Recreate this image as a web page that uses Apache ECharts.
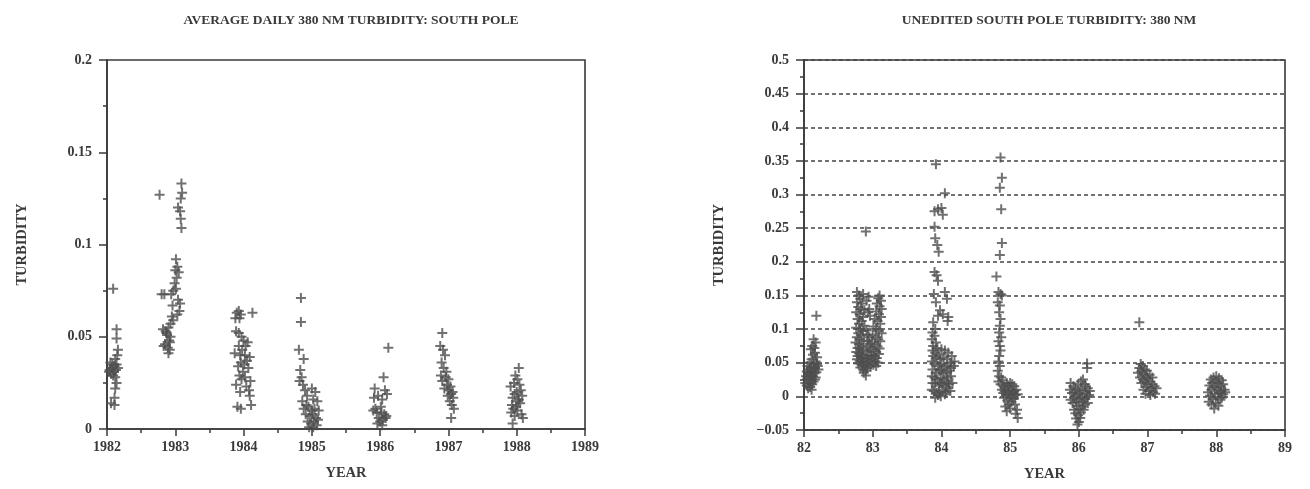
<!DOCTYPE html>
<html>
<head>
<meta charset="utf-8">
<title>South Pole 380 nm Turbidity</title>
<script src="https://cdn.jsdelivr.net/npm/echarts@6/dist/echarts.min.js"></script>
<style>
  html, body { margin: 0; padding: 0; background: #ffffff; }
  #chart { width: 1310px; height: 489px; }
</style>
</head>
<body>
<div id="chart"></div>
<script>
// ---- Average daily turbidity (decimal year, turbidity) ----
const avg1982 = [[1982.09,0.076],[1982.14,0.054],[1982.14,0.049],[1982.16,0.043],[1982.15,0.040],[1982.12,0.038],[1982.05,0.036],[1982.08,0.035],[1982.11,0.034],[1982.14,0.035],[1982.04,0.032],[1982.07,0.033],[1982.10,0.031],[1982.13,0.032],[1982.06,0.030],[1982.09,0.029],[1982.12,0.028],[1982.16,0.033],[1982.14,0.025],[1982.12,0.022],[1982.11,0.017],[1982.06,0.014],[1982.11,0.013],[1982.03,0.031]];
const avg1983 = [[1982.77,0.127],[1983.09,0.133],[1983.10,0.128],[1983.08,0.125],[1983.04,0.120],[1983.07,0.118],[1983.08,0.114],[1983.09,0.109],[1983.01,0.092],[1983.03,0.088],[1983.00,0.086],[1983.05,0.085],[1983.02,0.082],[1982.99,0.079],[1983.01,0.076],[1982.80,0.073],[1982.84,0.073],[1982.94,0.073],[1982.97,0.075],[1983.04,0.070],[1983.07,0.068],[1982.96,0.067],[1983.06,0.064],[1983.03,0.062],[1982.95,0.061],[1982.97,0.059],[1982.93,0.057],[1982.90,0.055],[1982.82,0.054],[1982.86,0.053],[1982.88,0.051],[1982.93,0.050],[1982.91,0.048],[1982.85,0.046],[1982.83,0.045],[1982.89,0.044],[1982.92,0.043],[1982.90,0.041],[1982.92,0.047],[1982.87,0.052]];
const avg1984 = [[1983.90,0.063],[1983.93,0.064],[1983.96,0.062],[1983.88,0.060],[1983.94,0.060],[1984.13,0.063],[1983.89,0.053],[1983.93,0.052],[1983.97,0.050],[1984.00,0.048],[1984.06,0.047],[1984.03,0.045],[1983.98,0.043],[1983.87,0.041],[1983.95,0.040],[1984.02,0.040],[1984.09,0.039],[1984.05,0.037],[1983.96,0.036],[1983.92,0.034],[1984.07,0.033],[1983.99,0.031],[1983.94,0.029],[1984.02,0.028],[1983.97,0.027],[1984.10,0.026],[1983.89,0.024],[1984.04,0.023],[1984.08,0.021],[1983.95,0.020],[1984.09,0.018],[1983.91,0.012],[1983.96,0.011],[1984.11,0.013],[1984.01,0.035],[1983.93,0.045]];
const avg1985 = [[1984.84,0.071],[1984.84,0.058],[1984.81,0.043],[1984.88,0.038],[1984.83,0.032],[1984.85,0.028],[1984.82,0.026],[1984.87,0.024],[1984.90,0.021],[1985.00,0.022],[1985.05,0.020],[1984.93,0.018],[1984.86,0.015],[1985.02,0.016],[1985.08,0.015],[1984.88,0.011],[1984.95,0.012],[1985.04,0.011],[1985.10,0.010],[1984.91,0.008],[1984.97,0.007],[1985.01,0.008],[1985.06,0.006],[1984.94,0.004],[1984.99,0.003],[1985.03,0.004],[1985.07,0.002],[1984.96,0.001],[1985.02,0.001],[1985.09,0.005],[1984.92,0.013],[1985.00,0.010]];
const avg1986 = [[1986.12,0.044],[1986.05,0.028],[1985.92,0.022],[1986.07,0.021],[1986.10,0.019],[1985.91,0.017],[1986.03,0.016],[1985.97,0.018],[1985.90,0.010],[1985.95,0.009],[1986.02,0.009],[1986.06,0.008],[1986.09,0.007],[1985.98,0.006],[1986.04,0.005],[1986.00,0.004],[1986.08,0.006],[1985.96,0.003],[1986.03,0.002],[1985.93,0.011],[1986.01,0.012]];
const avg1987 = [[1986.91,0.052],[1986.88,0.045],[1986.92,0.043],[1986.95,0.040],[1986.90,0.036],[1986.93,0.033],[1986.89,0.029],[1986.96,0.028],[1986.91,0.026],[1987.00,0.027],[1986.98,0.024],[1987.03,0.023],[1986.94,0.022],[1987.01,0.021],[1987.06,0.020],[1987.04,0.019],[1986.99,0.018],[1987.07,0.017],[1987.02,0.015],[1987.05,0.013],[1987.08,0.011],[1987.04,0.006],[1986.97,0.031]];
const avg1988 = [[1988.03,0.033],[1987.98,0.029],[1988.01,0.027],[1987.96,0.025],[1988.04,0.024],[1987.91,0.023],[1988.06,0.021],[1988.00,0.020],[1987.97,0.019],[1988.08,0.018],[1987.94,0.017],[1988.02,0.015],[1988.05,0.014],[1987.93,0.013],[1987.99,0.012],[1987.95,0.011],[1988.01,0.010],[1987.92,0.009],[1988.07,0.008],[1987.97,0.007],[1988.09,0.006],[1987.94,0.003],[1988.03,0.016]];

// ---- Unedited turbidity (two-digit decimal year, turbidity) ----
const raw82 = [[82.18,0.120],[82.14,0.085],[82.17,0.080],[82.12,0.075],[82.15,0.072],[82.10,0.070],[82.16,0.065],[82.13,0.062],[82.19,0.058],[82.11,0.055],[82.17,0.052],[82.08,0.050],[82.14,0.048],[82.20,0.045],[82.05,0.045],[82.10,0.043],[82.16,0.042],[82.21,0.040],[82.07,0.040],[82.12,0.038],[82.04,0.037],[82.09,0.036],[82.15,0.035],[82.18,0.036],[82.06,0.033],[82.11,0.032],[82.03,0.030],[82.08,0.029],[82.13,0.030],[82.17,0.028],[82.05,0.026],[82.10,0.024],[82.14,0.022],[82.07,0.020],[82.12,0.018],[82.04,0.016],[82.09,0.014],[82.06,0.012],[82.11,0.010],[82.02,0.020],[82.19,0.048],[82.16,0.025]];
const raw83 = [[82.90,0.245],[82.77,0.155],[82.80,0.150],[82.86,0.152],[82.82,0.145],[82.77,0.140],[82.85,0.138],[82.79,0.133],[82.83,0.130],[82.88,0.128],[82.76,0.125],[82.81,0.122],[82.86,0.118],[82.78,0.115],[82.84,0.112],[82.80,0.108],[82.88,0.105],[82.76,0.102],[82.82,0.100],[82.86,0.097],[82.79,0.094],[82.84,0.091],[82.77,0.088],[82.81,0.085],[82.87,0.083],[82.75,0.080],[82.80,0.078],[82.84,0.075],[82.78,0.072],[82.82,0.070],[82.86,0.068],[82.76,0.066],[82.80,0.064],[82.85,0.062],[82.78,0.060],[82.83,0.058],[82.88,0.057],[82.77,0.055],[82.81,0.053],[82.86,0.051],[82.79,0.049],[82.84,0.047],[82.88,0.045],[82.82,0.043],[82.86,0.040],[82.90,0.038],[82.87,0.035],[82.90,0.031],
  [82.91,0.098],[82.93,0.092],[82.95,0.088],[82.92,0.082],[82.96,0.078],[82.93,0.073],[82.97,0.070],[82.91,0.066],[82.94,0.062],[82.98,0.060],[82.92,0.056],[82.96,0.053],[82.90,0.050],[82.94,0.047],[82.97,0.044],[82.92,0.042],[82.95,0.130],[82.93,0.125],[82.96,0.120],[82.91,0.142],[82.94,0.148],
  [83.10,0.150],[83.08,0.146],[83.12,0.142],[83.06,0.138],[83.10,0.134],[83.13,0.130],[83.05,0.126],[83.09,0.122],[83.12,0.118],[83.03,0.115],[83.07,0.112],[83.11,0.108],[83.01,0.104],[83.05,0.100],[83.09,0.097],[83.13,0.094],[83.00,0.091],[83.04,0.088],[83.08,0.085],[83.11,0.082],[82.99,0.080],[83.03,0.077],[83.07,0.074],[83.10,0.071],[83.01,0.068],[83.05,0.066],[83.09,0.063],[83.02,0.060],[83.06,0.057],[82.99,0.055],[83.04,0.052],[83.08,0.050],[83.01,0.047],[83.05,0.045]];
const raw84 = [[83.92,0.345],[84.05,0.302],[83.90,0.275],[83.95,0.278],[84.00,0.280],[84.02,0.270],[83.90,0.252],[83.91,0.235],[83.94,0.225],[83.96,0.215],[83.90,0.185],[83.93,0.180],[83.95,0.172],[83.89,0.152],[84.05,0.155],[84.08,0.145],[83.92,0.140],[83.98,0.128],[83.95,0.120],[84.02,0.122],[84.10,0.118],[84.09,0.112],[83.88,0.110],[83.91,0.100],
  [83.87,0.095],[83.90,0.090],[83.86,0.085],[83.92,0.080],[83.88,0.075],[83.94,0.072],[83.87,0.068],[83.91,0.065],[83.96,0.062],[84.00,0.070],[84.05,0.068],[84.10,0.065],[84.15,0.060],[84.19,0.052],[84.13,0.050],[84.08,0.055],[84.03,0.058],[83.98,0.055],[83.93,0.057],[83.88,0.060],[83.86,0.052],[83.90,0.048],[83.95,0.045],[84.00,0.048],[84.04,0.044],[84.09,0.046],[84.14,0.042],[84.18,0.045],[84.12,0.038],[84.07,0.036],[84.02,0.034],[83.97,0.038],[83.92,0.035],[83.87,0.040],[83.86,0.030],[83.90,0.028],[83.94,0.025],[83.99,0.027],[84.04,0.025],[84.09,0.028],[84.14,0.030],[84.16,0.020],[84.11,0.018],[84.06,0.015],[84.01,0.018],[83.96,0.016],[83.91,0.019],[83.87,0.020],[83.86,0.010],[83.89,0.008],[83.93,0.005],[83.97,0.007],[84.02,0.009],[84.07,0.006],[84.13,0.008],[84.10,0.012],[83.95,0.002],[83.91,-0.002],[83.99,0.000],[84.05,0.003],[84.00,0.040],[83.98,0.020],[84.08,0.022]];
const raw85 = [[84.86,0.355],[84.88,0.325],[84.85,0.310],[84.87,0.278],[84.88,0.228],[84.85,0.210],[84.80,0.178],[84.83,0.155],[84.86,0.152],[84.88,0.150],[84.82,0.140],[84.85,0.135],[84.84,0.125],[84.86,0.115],[84.85,0.105],[84.84,0.095],[84.87,0.088],[84.83,0.082],[84.85,0.075],[84.86,0.068],[84.84,0.060],[84.83,0.052],[84.85,0.045],[84.82,0.038],[84.84,0.030],[84.87,0.028],[84.83,0.022],[84.86,0.018],[84.89,0.024],[84.91,0.015],[84.88,0.010],[84.90,0.005],[84.93,0.012],[84.95,0.020],[84.97,0.016],[85.00,0.020],[85.03,0.018],[85.06,0.015],[85.09,0.010],[85.01,0.010],[84.98,0.006],[84.94,0.002],[84.91,-0.002],[84.96,-0.006],[85.00,0.002],[85.04,0.005],[85.08,0.002],[85.11,0.003],[85.05,-0.004],[85.02,-0.008],[84.98,-0.012],[84.93,-0.015],[84.95,-0.022],[85.00,-0.018],[85.07,-0.012],[85.10,-0.020],[85.08,-0.026],[85.11,-0.032],[85.03,-0.002],[84.92,0.008],[85.06,0.008]];
const raw86 = [[86.12,0.049],[86.12,0.042],[85.88,0.020],[85.92,0.015],[85.87,0.010],[85.90,0.005],[85.95,0.012],[85.99,0.018],[86.03,0.022],[86.06,0.025],[86.09,0.018],[86.13,0.012],[86.16,0.008],[86.10,0.005],[86.05,0.008],[86.01,0.004],[85.97,0.002],[85.93,-0.002],[85.88,-0.005],[85.91,-0.010],[85.96,-0.008],[86.00,-0.005],[86.04,-0.002],[86.08,-0.004],[86.12,-0.001],[86.15,0.002],[86.13,-0.010],[86.09,-0.012],[86.05,-0.015],[86.01,-0.018],[85.97,-0.014],[85.93,-0.020],[85.95,-0.025],[85.99,-0.028],[86.03,-0.024],[86.07,-0.020],[85.96,-0.033],[86.00,-0.038],[85.98,-0.042],[86.02,-0.032],[86.10,0.015],[86.02,0.010],[85.94,0.006],[86.06,-0.008]];
const raw87 = [[86.88,0.110],[86.90,0.048],[86.93,0.045],[86.88,0.042],[86.96,0.040],[86.91,0.037],[86.86,0.035],[86.94,0.033],[86.98,0.030],[86.89,0.028],[86.93,0.025],[87.01,0.027],[87.04,0.022],[86.96,0.022],[86.91,0.020],[87.00,0.018],[87.07,0.018],[87.10,0.015],[87.13,0.012],[87.05,0.012],[86.98,0.014],[86.94,0.010],[87.02,0.008],[87.08,0.006],[87.11,0.004],[86.97,0.004],[87.04,0.002],[86.99,0.038],[87.03,0.032],[87.07,0.028]];
const raw88 = [[88.00,0.030],[87.96,0.028],[88.04,0.027],[87.92,0.025],[88.08,0.024],[87.99,0.022],[88.03,0.020],[87.94,0.020],[88.10,0.018],[87.90,0.016],[88.06,0.015],[87.97,0.014],[88.01,0.012],[88.12,0.010],[87.93,0.010],[88.07,0.008],[87.88,0.006],[88.04,0.005],[87.98,0.004],[88.10,0.003],[87.91,0.001],[88.02,-0.001],[87.95,-0.004],[88.06,-0.005],[87.89,-0.008],[87.99,-0.010],[88.03,-0.014],[87.93,-0.012],[87.97,-0.018],[88.13,0.006],[88.08,-0.002]];

// ---- Axis ranges and labels ----
const leftTitle = 'AVERAGE DAILY 380 NM TURBIDITY: SOUTH POLE';
const rightTitle = 'UNEDITED SOUTH POLE TURBIDITY: 380 NM';
const leftYears = [1982, 1989];
const rightYears = [82, 89];
const leftRange = [0, 0.2];
const rightRange = [-0.05, 0.5];
const yStep = 0.05;

const ink = '#3a3a3a';
const markColor = '#4d4d4d';
const serif = '"Liberation Serif", "DejaVu Serif", serif';
const plus = 'path://M4,0H6V4H10V6H6V10H4V6H0V4H4Z';

function fmtY(v) {
  return String(+v.toFixed(2)).replace('-', '\u2212');
}

function xAxisFor(idx, range) {
  return {
    type: 'value', gridIndex: idx, min: range[0], max: range[1], interval: 1,
    name: 'YEAR', nameLocation: 'middle', nameGap: 37,
    nameTextStyle: { fontFamily: serif, fontWeight: 'bold', fontSize: 14.5, color: ink },
    axisLine: { show: true, onZero: false, lineStyle: { color: ink, width: 1.6 } },
    axisTick: { show: true, length: 7, lineStyle: { color: ink, width: 1.5 } },
    minorTick: { show: true, splitNumber: 2, length: 4, lineStyle: { color: ink, width: 1.5 } },
    axisLabel: { fontFamily: serif, fontWeight: 'bold', fontSize: 14, color: ink, margin: 11, formatter: v => String(v) },
    splitLine: { show: false }
  };
}

function yAxisFor(idx, range, dashed) {
  return {
    type: 'value', gridIndex: idx, min: range[0], max: range[1], interval: yStep,
    name: 'TURBIDITY', nameLocation: 'middle', nameGap: 77, nameRotate: 90,
    nameTextStyle: { fontFamily: serif, fontWeight: 'bold', fontSize: 14.5, color: ink },
    axisLine: { show: true, onZero: false, lineStyle: { color: ink, width: 1.6 } },
    axisTick: { show: true, length: 8, lineStyle: { color: ink, width: 1.5 } },
    minorTick: { show: true, splitNumber: 2, length: 4, lineStyle: { color: ink, width: 1.5 } },
    axisLabel: { fontFamily: serif, fontWeight: 'bold', fontSize: 14, color: ink, margin: 15, formatter: fmtY },
    splitLine: dashed
      ? { show: true, lineStyle: { color: '#444', width: 1.7, type: [4, 3] } }
      : { show: false }
  };
}

const chart = echarts.init(document.getElementById('chart'), null, { renderer: 'canvas' });

chart.setOption({
  backgroundColor: '#ffffff',
  animation: false,
  title: [
    { text: leftTitle, left: 346, top: 9, textAlign: 'center',
      textStyle: { fontFamily: serif, fontWeight: 'bold', fontSize: 13.5, color: ink } },
    { text: rightTitle, left: 1044, top: 9, textAlign: 'center',
      textStyle: { fontFamily: serif, fontWeight: 'bold', fontSize: 13.5, color: ink } }
  ],
  grid: [
    { left: 107, right: 725, top: 60, bottom: 60, show: true, borderColor: ink, borderWidth: 1.6 },
    { left: 804, right: 25, top: 60, bottom: 59, show: true, borderColor: ink, borderWidth: 1.6 }
  ],
  xAxis: [xAxisFor(0, leftYears), xAxisFor(1, rightYears)],
  yAxis: [yAxisFor(0, leftRange, false), yAxisFor(1, rightRange, true)],
  series: [
    {
      type: 'scatter', xAxisIndex: 0, yAxisIndex: 0,
      symbol: plus, symbolSize: 10,
      itemStyle: { color: markColor },
      data: [].concat(avg1982, avg1983, avg1984, avg1985, avg1986, avg1987, avg1988)
    },
    {
      type: 'scatter', xAxisIndex: 1, yAxisIndex: 1,
      symbol: plus, symbolSize: 10,
      itemStyle: { color: markColor },
      data: [].concat(raw82, raw83, raw84, raw85, raw86, raw87, raw88)
    }
  ]
});
</script>
</body>
</html>
